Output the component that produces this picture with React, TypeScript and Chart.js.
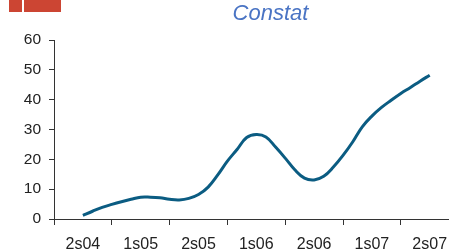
import React, { useEffect, useRef } from "react";
import { Chart, registerables } from "chart.js";

Chart.register(...registerables);

// Semester labels (category centres on the x axis)
const semesterLabels = ["2s04", "1s05", "2s05", "1s06", "2s06", "1s07", "2s07"];
// Monthly readings from 2s04 to 2s07 (6 per semester)
const monthlyValues = [
  1.2, 2.6, 3.9, 4.9, 5.8, 6.6,
  7.3, 7.3, 7.1, 6.6, 6.4, 6.9,
  8.2, 10.7, 14.8, 19.4, 23.3, 27.3,
  28.3, 27.5, 24.1, 20.4, 16.5, 13.7,
  13.1, 14.3, 17.4, 21.3, 25.8, 30.9,
  34.5, 37.4, 39.8, 42.1, 44.1, 46.2,
  48.2,
];
const yTicks = [0, 10, 20, 30, 40, 50, 60];
const titleText = "Constat";
const MONTHS_PER_SEMESTER = 6;

const FONT = "'Liberation Sans', Arial, sans-serif";

export default function App() {
  const canvasRef = useRef<HTMLCanvasElement | null>(null);

  useEffect(() => {
    const canvas = canvasRef.current;
    if (!canvas) return;
    const semWidthPx = 57.8;
    const chart = new Chart(canvas, {
      type: "line",
      data: {
        datasets: [
          {
            data: monthlyValues.map((v, i) => ({ x: i / MONTHS_PER_SEMESTER, y: v })),
            borderColor: "#0b5c82",
            borderWidth: 3,
            pointRadius: 0,
            tension: 0.4,
            fill: false,
          },
        ],
      },
      options: {
        animation: false,
        responsive: false,
        maintainAspectRatio: false,
        layout: { padding: { top: 40, right: 0, left: 0, bottom: 0 } },
        plugins: {
          legend: { display: false },
          title: { display: false },
          tooltip: { enabled: false },
        },
        scales: {
          x: {
            type: "linear",
            min: -0.5,
            max: -0.5 + (449 - 54) / semWidthPx,
            afterBuildTicks: (s: any) => {
              s.ticks = semesterLabels.map((_, i) => ({ value: i - 0.5 }));
            },
            afterFit: (s: any) => {
              s.height = 32;
            },
            ticks: {
              autoSkip: false,
              maxRotation: 0,
              labelOffset: semWidthPx / 2,
              padding: 10,
              color: "#222",
              font: { family: FONT, size: 16 },
              callback: (_v: any, i: number) => semesterLabels[i],
            },
            grid: {
              display: true,
              drawOnChartArea: false,
              tickLength: 6,
              color: "#333",
            },
            border: { display: true, color: "#333", width: 1 },
          },
          y: {
            min: 0,
            max: 60,
            afterBuildTicks: (s: any) => {
              s.ticks = yTicks.map((v) => ({ value: v }));
            },
            afterFit: (s: any) => {
              s.width = 54;
            },
            ticks: {
              padding: 8,
              color: "#222",
              font: { family: FONT, size: 15.5 },
            },
            grid: {
              display: true,
              drawOnChartArea: false,
              tickLength: 5,
              color: "#333",
            },
            border: { display: true, color: "#333", width: 1 },
          },
        },
      },
    });
    return () => chart.destroy();
  }, []);

  return (
    <div
      style={{
        position: "fixed",
        left: 0,
        top: 0,
        width: 449,
        height: 251,
        overflow: "hidden",
        background: "#fff",
      }}
    >
      <div style={{ position: "absolute", left: 9, top: 0, width: 13, height: 12, background: "#cc4533" }} />
      <div style={{ position: "absolute", left: 24, top: 0, width: 37, height: 12, background: "#cc4533" }} />
      <canvas ref={canvasRef} width={449} height={251} style={{ display: "block", width: 449, height: 251 }} />
      <div
        style={{
          position: "absolute",
          left: 270.5,
          top: 2,
          transform: "translateX(-50%)",
          fontFamily: FONT,
          fontStyle: "italic",
          fontSize: 22,
          lineHeight: "22px",
          color: "#4a74c4",
          whiteSpace: "nowrap",
        }}
      >
        {titleText}
      </div>
    </div>
  );
}
